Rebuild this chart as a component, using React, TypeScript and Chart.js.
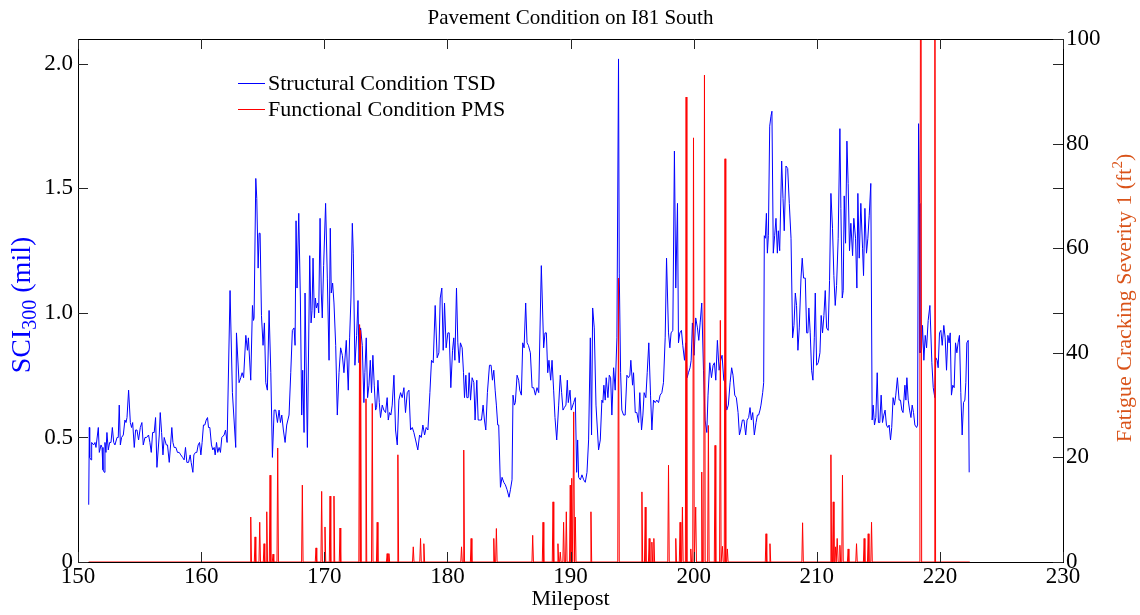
import React, { useEffect, useRef } from 'react';
import { Chart, registerables } from 'chart.js';

Chart.register(...registerables);

const FONT = '"Liberation Serif", "Times New Roman", Times, serif';

const chartTitle = 'Pavement Condition on I81 South';
const xTitle = 'Milepost';
const legendLabels = ['Structural Condition TSD', 'Functional Condition PMS'];
const seriesColors = ['#0000ff', '#ff0000'];

const xTickValues = [150, 160, 170, 180, 190, 200, 210, 220, 230];
const leftTickValues = [0, 0.5, 1, 1.5, 2];
const rightTickValues = [0, 20, 40, 60, 80, 100];

// Structural condition (SCI300, mil) by milepost
const blueMiles = [
  150.87, 150.92, 150.95, 151.06, 151.11, 151.27, 151.38, 151.46, 151.65, 151.73, 151.87, 151.95, 152.03, 152.14, 152.19, 152.27, 152.35, 152.46, 152.57, 152.68,
  152.79, 152.90, 153.00, 153.17, 153.27, 153.35, 153.44, 153.54, 153.68, 153.81, 153.90, 153.98, 154.11, 154.25, 154.35, 154.44, 154.57, 154.68, 154.79, 154.92,
  155.06, 155.19, 155.30, 155.44, 155.57, 155.73, 155.84, 155.95, 156.06, 156.19, 156.30, 156.41, 156.60, 156.68, 156.79, 156.90, 157.00, 157.17, 157.27, 157.41,
  157.52, 157.62, 157.71, 157.81, 157.95, 158.08, 158.22, 158.35, 158.49, 158.62, 158.73, 158.84, 158.98, 159.11, 159.19, 159.33, 159.41, 159.54, 159.65, 159.76,
  159.87, 159.98, 160.08, 160.19, 160.30, 160.41, 160.52, 160.60, 160.71, 160.84, 160.95, 161.06, 161.14, 161.25, 161.35, 161.46, 161.57, 161.68, 161.87, 161.98,
  162.11, 162.35, 162.54, 162.81, 162.87, 163.08, 163.22, 163.33, 163.45, 163.63, 163.76, 163.84, 164.03, 164.17, 164.25, 164.30, 164.44, 164.52, 164.63, 164.71,
  164.79, 164.90, 165.03, 165.14, 165.25, 165.38, 165.52, 165.66, 165.79, 165.93, 166.06, 166.20, 166.33, 166.44, 166.55, 166.68, 166.82, 166.95, 167.14, 167.28,
  167.41, 167.55, 167.63, 167.71, 167.79, 167.93, 168.06, 168.17, 168.25, 168.36, 168.44, 168.63, 168.82, 168.93, 169.01, 169.09, 169.20, 169.28, 169.36, 169.47,
  169.55, 169.66, 169.76, 169.84, 169.95, 170.11, 170.25, 170.39, 170.49, 170.57, 170.68, 170.79, 170.93, 171.06, 171.20, 171.33, 171.47, 171.60, 171.79, 171.95,
  172.06, 172.17, 172.28, 172.36, 172.49, 172.63, 172.74, 172.82, 172.95, 173.09, 173.22, 173.30, 173.41, 173.52, 173.63, 173.74, 173.84, 173.95, 174.06, 174.17,
  174.25, 174.36, 174.47, 174.57, 174.71, 174.84, 174.98, 175.11, 175.20, 175.30, 175.41, 175.52, 175.66, 175.79, 175.93, 176.06, 176.20, 176.33, 176.47, 176.60,
  176.74, 176.88, 177.01, 177.15, 177.28, 177.42, 177.60, 177.74, 177.88, 178.01, 178.15, 178.28, 178.42, 178.58, 178.71, 178.85, 179.01, 179.17, 179.31, 179.42,
  179.55, 179.66, 179.77, 179.90, 180.04, 180.15, 180.28, 180.42, 180.52, 180.61, 180.74, 180.85, 180.96, 181.06, 181.20, 181.31, 181.39, 181.50, 181.58, 181.69,
  181.77, 181.88, 182.01, 182.15, 182.25, 182.39, 182.50, 182.63, 182.77, 182.90, 183.01, 183.12, 183.25, 183.42, 183.55, 183.66, 183.77, 183.88, 183.98, 184.09,
  184.17, 184.31, 184.44, 184.58, 184.71, 184.85, 185.01, 185.12, 185.25, 185.33, 185.44, 185.52, 185.66, 185.79, 185.88, 186.01, 186.12, 186.23, 186.36, 186.47,
  186.58, 186.74, 186.88, 187.01, 187.15, 187.28, 187.42, 187.63, 187.82, 187.93, 188.04, 188.15, 188.25, 188.39, 188.50, 188.63, 188.74, 188.88, 189.04, 189.17,
  189.28, 189.39, 189.50, 189.63, 189.74, 189.82, 189.96, 190.06, 190.26, 190.39, 190.50, 190.58, 190.66, 190.80, 190.93, 191.07, 191.20, 191.34, 191.47, 191.61,
  191.71, 191.80, 191.93, 192.07, 192.28, 192.42, 192.55, 192.63, 192.71, 192.82, 192.90, 193.04, 193.15, 193.26, 193.36, 193.50, 193.63, 193.77, 193.90, 193.96,
  194.07, 194.17, 194.31, 194.44, 194.58, 194.71, 194.82, 194.90, 195.04, 195.12, 195.26, 195.39, 195.53, 195.63, 195.77, 195.88, 195.98, 196.12, 196.23, 196.36,
  196.50, 196.61, 196.74, 196.88, 197.01, 197.15, 197.28, 197.42, 197.55, 197.69, 197.80, 197.96, 198.07, 198.17, 198.31, 198.44, 198.55, 198.69, 198.77, 198.88,
  199.01, 199.12, 199.26, 199.36, 199.47, 199.58, 199.71, 199.80, 199.90, 200.04, 200.17, 200.31, 200.42, 200.53, 200.66, 200.80, 200.93, 201.07, 201.17, 201.31,
  201.45, 201.58, 201.69, 201.80, 201.93, 202.07, 202.20, 202.31, 202.45, 202.58, 202.69, 202.82, 202.96, 203.09, 203.20, 203.34, 203.47, 203.61, 203.72, 203.82,
  203.96, 204.09, 204.23, 204.34, 204.47, 204.58, 204.69, 204.80, 204.93, 205.07, 205.18, 205.28, 205.39, 205.47, 205.61, 205.69, 205.74, 205.82, 205.91, 205.99,
  206.07, 206.18, 206.28, 206.36, 206.47, 206.58, 206.69, 206.80, 206.88, 206.99, 207.15, 207.26, 207.36, 207.50, 207.64, 207.77, 207.91, 208.04, 208.15, 208.26,
  208.36, 208.47, 208.58, 208.72, 208.82, 208.93, 209.07, 209.18, 209.28, 209.36, 209.47, 209.58, 209.69, 209.80, 209.88, 209.99, 210.12, 210.26, 210.36, 210.47,
  210.58, 210.69, 210.80, 210.93, 211.04, 211.15, 211.28, 211.39, 211.50, 211.61, 211.74, 211.88, 211.96, 212.07, 212.15, 212.23, 212.34, 212.45, 212.55, 212.66,
  212.77, 212.91, 213.01, 213.15, 213.26, 213.34, 213.45, 213.58, 213.72, 213.80, 213.91, 214.04, 214.15, 214.26, 214.39, 214.50, 214.58, 214.69, 214.80, 214.91,
  215.01, 215.12, 215.23, 215.34, 215.45, 215.55, 215.66, 215.77, 215.88, 215.99, 216.09, 216.20, 216.31, 216.42, 216.55, 216.69, 216.80, 216.91, 217.01, 217.16,
  217.24, 217.32, 217.43, 217.54, 217.65, 217.75, 217.86, 217.97, 218.11, 218.19, 218.27, 218.35, 218.38, 218.51, 218.59, 218.70, 218.81, 218.92, 219.05, 219.19,
  219.35, 219.46, 219.59, 219.67, 219.78, 219.86, 219.97, 220.08, 220.19, 220.32, 220.43, 220.54, 220.65, 220.75, 220.84, 220.94, 221.05, 221.16, 221.27, 221.38,
  221.48, 221.59, 221.70, 221.81, 221.92, 222.03, 222.11, 222.19, 222.30, 222.38,
];

const blueValues = [
  0.23, 0.54, 0.42, 0.41, 0.48, 0.47, 0.48, 0.46, 0.54, 0.44, 0.47, 0.46, 0.37, 0.36, 0.48, 0.44, 0.52, 0.45, 0.48, 0.48,
  0.54, 0.48, 0.47, 0.50, 0.50, 0.63, 0.47, 0.50, 0.51, 0.57, 0.56, 0.58, 0.69, 0.56, 0.54, 0.56, 0.46, 0.53, 0.53, 0.49,
  0.54, 0.56, 0.47, 0.50, 0.50, 0.51, 0.48, 0.44, 0.52, 0.52, 0.58, 0.38, 0.51, 0.60, 0.52, 0.43, 0.50, 0.47, 0.47, 0.40,
  0.47, 0.54, 0.48, 0.46, 0.46, 0.44, 0.44, 0.43, 0.42, 0.41, 0.46, 0.40, 0.40, 0.43, 0.40, 0.36, 0.43, 0.44, 0.44, 0.47,
  0.48, 0.43, 0.48, 0.55, 0.55, 0.57, 0.58, 0.54, 0.54, 0.47, 0.45, 0.46, 0.43, 0.48, 0.44, 0.46, 0.44, 0.50, 0.51, 0.53,
  0.48, 1.09, 0.68, 0.46, 0.92, 0.72, 0.74, 0.76, 0.74, 0.91, 0.85, 0.90, 0.73, 1.03, 0.97, 0.98, 1.54, 1.46, 1.18, 1.32,
  1.32, 0.99, 0.87, 0.96, 0.72, 0.69, 1.01, 0.76, 0.42, 0.61, 0.61, 0.56, 0.61, 0.56, 0.59, 0.53, 0.48, 0.55, 0.59, 0.76,
  0.93, 0.94, 0.87, 1.37, 1.10, 1.40, 1.06, 0.59, 0.77, 0.52, 1.08, 0.46, 1.23, 0.96, 1.01, 1.22, 0.98, 1.06, 1.02, 1.04,
  1.00, 1.38, 1.08, 0.98, 1.19, 1.44, 1.14, 0.81, 1.34, 1.08, 1.12, 1.04, 0.87, 0.59, 0.76, 0.86, 0.83, 0.76, 0.89, 0.69,
  0.90, 1.06, 1.36, 1.24, 0.79, 0.91, 1.05, 0.80, 0.94, 0.87, 0.64, 0.76, 0.90, 0.66, 0.71, 0.81, 0.68, 0.83, 0.71, 0.61,
  0.62, 0.73, 0.64, 0.58, 0.63, 0.61, 0.60, 0.66, 0.57, 0.60, 0.59, 0.63, 0.75, 0.53, 0.47, 0.65, 0.68, 0.66, 0.70, 0.60,
  0.68, 0.69, 0.53, 0.54, 0.52, 0.49, 0.45, 0.51, 0.50, 0.55, 0.51, 0.54, 0.53, 0.68, 0.81, 0.80, 1.03, 0.82, 0.84, 1.06,
  1.10, 0.85, 1.04, 0.86, 0.92, 0.92, 0.70, 0.85, 0.90, 0.81, 1.10, 0.88, 0.80, 0.88, 0.86, 0.76, 0.66, 0.75, 0.66, 0.66,
  0.76, 0.65, 0.74, 0.72, 0.57, 0.73, 0.57, 0.57, 0.57, 0.63, 0.57, 0.53, 0.68, 0.79, 0.79, 0.73, 0.77, 0.69, 0.63, 0.55,
  0.55, 0.30, 0.34, 0.32, 0.31, 0.29, 0.26, 0.29, 0.33, 0.67, 0.63, 0.64, 0.75, 0.73, 0.69, 0.67, 0.88, 0.86, 1.04, 0.88,
  0.87, 0.84, 0.70, 0.70, 0.67, 0.70, 0.68, 1.19, 0.86, 0.92, 0.92, 0.76, 0.81, 0.73, 0.81, 0.69, 0.58, 0.49, 0.63, 0.75,
  0.68, 0.61, 0.62, 0.63, 0.73, 0.64, 0.69, 0.61, 0.64, 0.66, 0.36, 0.49, 0.34, 0.33, 0.35, 0.33, 0.32, 0.36, 0.49, 0.90,
  0.51, 1.02, 0.94, 0.63, 0.45, 0.49, 0.65, 0.64, 0.71, 0.65, 0.74, 0.66, 0.75, 0.74, 0.59, 0.78, 0.69, 0.90, 2.02, 1.16,
  0.76, 0.61, 0.59, 0.59, 0.75, 0.74, 0.75, 0.81, 0.71, 0.76, 0.60, 0.60, 0.56, 0.68, 0.53, 0.59, 0.68, 0.66, 0.76, 0.88,
  0.67, 0.53, 0.65, 0.64, 0.65, 0.64, 0.67, 0.68, 0.72, 0.90, 1.22, 0.92, 0.86, 0.92, 0.93, 1.65, 1.10, 1.44, 0.88, 0.92,
  0.93, 0.87, 0.81, 0.88, 0.74, 0.76, 0.78, 0.81, 0.96, 0.83, 0.98, 0.94, 0.89, 0.96, 1.04, 0.77, 0.57, 0.52, 0.67, 0.80,
  0.74, 0.79, 0.80, 0.73, 0.89, 0.77, 0.81, 0.83, 0.73, 0.72, 0.61, 0.63, 0.72, 0.78, 0.75, 0.67, 0.66, 0.60, 0.51, 0.53,
  0.57, 0.57, 0.51, 0.57, 0.58, 0.62, 0.57, 0.60, 0.51, 0.56, 0.59, 0.59, 0.61, 0.63, 0.68, 0.72, 1.31, 1.30, 1.40, 1.24,
  1.31, 1.75, 1.79, 1.81, 1.24, 1.31, 1.38, 1.24, 1.33, 1.25, 1.61, 1.46, 1.33, 1.59, 1.58, 1.44, 1.30, 0.90, 0.95, 1.08,
  1.03, 0.85, 0.94, 1.14, 1.22, 1.14, 1.14, 0.92, 0.92, 1.02, 0.92, 0.77, 0.73, 0.90, 1.08, 0.79, 0.80, 0.84, 0.99, 0.92,
  0.99, 1.09, 0.94, 0.93, 1.13, 1.48, 1.34, 1.15, 1.03, 1.11, 1.30, 1.74, 1.42, 1.06, 1.09, 1.47, 1.28, 1.69, 1.52, 1.25,
  1.36, 1.23, 1.38, 1.30, 1.10, 1.48, 1.22, 1.44, 1.26, 1.15, 1.42, 1.24, 1.30, 1.39, 1.52, 0.57, 0.63, 0.55, 0.58, 0.76,
  0.56, 0.56, 0.67, 0.56, 0.59, 0.61, 0.55, 0.54, 0.55, 0.49, 0.54, 0.66, 0.63, 0.67, 0.74, 0.65, 0.65, 0.61, 0.60, 0.71,
  0.65, 0.74, 0.65, 0.61, 0.58, 0.63, 0.60, 0.55, 0.54, 0.55, 1.76, 1.44, 0.84, 0.85, 0.95, 0.81, 0.91, 0.86, 0.97, 1.03,
  0.80, 0.70, 0.66, 0.82, 0.81, 0.78, 0.92, 0.93, 0.87, 0.95, 0.90, 0.77, 0.91, 0.88, 0.92, 0.67, 0.71, 0.70, 0.88, 0.84,
  0.88, 0.91, 0.68, 0.51, 0.64, 0.65, 0.72, 0.88, 0.89, 0.36,
];

// Functional condition (fatigue cracking severity 1, ft^2) by milepost
const redMiles = [
  150.87,
  163.97, 164.03, 164.09, 164.32, 164.38, 164.44, 164.70, 164.76, 164.82, 165.05, 165.11, 165.17, 165.27, 165.33, 165.39,
  165.54, 165.60, 165.66, 165.78, 165.84, 165.90, 166.16, 166.22, 166.28, 168.16, 168.22, 168.28, 169.27, 169.33, 169.39,
  169.73, 169.79, 169.85, 170.00, 170.06, 170.12, 170.41, 170.47, 170.53, 170.73, 170.79, 170.85, 171.22, 171.28, 171.34,
  172.81, 172.87, 172.91, 172.95, 173.01, 173.33, 173.39, 173.45, 173.84, 173.90, 173.96, 174.24, 174.30, 174.36,
  175.05, 175.11, 175.17, 175.19, 175.25, 175.31, 175.92, 175.98, 176.04, 177.17, 177.23, 177.29, 177.76, 177.82, 177.88,
  178.03, 178.09, 178.15, 181.09, 181.15, 181.21, 181.27, 181.33, 181.39, 181.87, 181.93, 181.99, 183.71, 183.77, 183.83,
  183.92, 183.98, 184.04, 186.87, 186.93, 186.99, 187.71, 187.77, 187.83, 188.52, 188.58, 188.64, 188.92, 188.98, 189.04,
  189.11, 189.17, 189.23, 189.38, 189.44, 189.50, 189.60, 189.66, 189.72, 189.92, 189.98, 190.04, 190.10, 190.18, 190.26,
  190.33, 190.39, 190.45, 191.60, 191.66, 191.72, 193.84, 193.90, 193.96, 195.74, 195.80, 195.86, 196.01, 196.07, 196.13,
  196.33, 196.39, 196.45, 196.55, 196.61, 196.67, 196.71, 196.77, 196.83, 197.90, 197.96, 198.02, 198.49, 198.55, 198.61,
  198.84, 198.90, 198.96, 199.03, 199.09, 199.15, 199.33, 199.39, 199.45, 199.71, 199.77, 199.83, 199.93, 199.99, 200.05,
  200.11, 200.17, 200.23, 200.60, 200.66, 200.72, 200.82, 200.88, 200.94, 201.14, 201.20, 201.26, 201.68, 201.74, 201.80,
  202.11, 202.17, 202.23, 202.28, 202.34, 202.40, 202.49, 202.55, 202.61, 202.68, 202.74, 202.80, 205.82, 205.88, 205.94,
  206.14, 206.20, 206.26, 208.79, 208.85, 208.91, 211.09, 211.15, 211.21, 211.28, 211.34, 211.40, 211.47, 211.53, 211.58,
  211.66, 211.74, 211.82, 211.88, 211.94, 212.03, 212.09, 212.15, 212.49, 212.55, 212.61, 213.17, 213.23, 213.29,
  213.79, 213.85, 213.91, 214.12, 214.18, 214.24, 214.39, 214.45, 214.51, 218.32, 218.38, 218.46, 218.52, 219.53, 219.59,
  219.65, 222.43,
];

const redValues = [
  0,
  0, 8.6, 0, 0, 4.8, 0, 0, 7.6, 0, 0, 3.5, 0, 0, 9.6, 0,
  0, 16.6, 0, 0, 1.5, 0, 0, 21.8, 0, 0, 14.7, 0, 0, 2.7, 0,
  0, 13.5, 0, 0, 6.7, 0, 0, 12.6, 0, 0, 12.6, 0, 0, 6.5, 0,
  0, 45.4, 0, 44.3, 0, 0, 31.2, 0, 0, 30.3, 0, 0, 7.6, 0,
  0, 1.6, 0, 0, 1.6, 0, 0, 20.5, 0, 0, 2.9, 0, 0, 4.5, 0,
  0, 3.5, 0, 0, 2.9, 0, 0, 21.4, 0, 0, 4.5, 0, 0, 4.5, 0,
  0, 6.4, 0, 0, 5.1, 0, 0, 7.6, 0, 0, 11.5, 0, 0, 3.5, 0,
  0, 1.9, 0, 0, 7.6, 0, 0, 9.6, 0, 0, 14.7, 0, 16.0, 0, 28.7,
  0, 8.6, 0, 0, 9.6, 0, 0, 54.3, 0, 0, 13.4, 0, 0, 10.5, 0,
  0, 4.5, 0, 0, 3.8, 0, 0, 4.5, 0, 0, 18.5, 0, 0, 4.5, 0,
  0, 7.6, 0, 0, 10.5, 0, 0, 88.9, 0, 0, 2.5, 0, 0, 81.1, 0,
  0, 10.5, 0, 0, 17.2, 0, 0, 93.1, 0, 0, 26.1, 0, 0, 22.3, 0,
  0, 46.2, 0, 0, 3.0, 0, 0, 77.1, 0, 0, 2.5, 0, 0, 5.4, 0,
  0, 3.5, 0, 0, 7.5, 0, 0, 20.5, 0, 0, 11.5, 0, 0, 2.9, 0,
  4.5, 0, 0, 3.2, 0, 0, 16.6, 0, 0, 2.5, 0, 0, 3.5, 0,
  0, 4.5, 0, 0, 5.4, 0, 0, 7.6, 0, 0, 52, 150, 0, 0, 150,
  0, 0,
];

const overlayPlugin = {
  id: 'overlay',
  afterDatasetsDraw(chart: any) {
    const { ctx, chartArea: a, scales } = chart;
    const xs = scales.x;
    const ys = scales.y;
    const y1s = scales.y1;
    ctx.save();
    // box top border
    ctx.strokeStyle = '#000';
    ctx.lineWidth = 1;
    const top = Math.round(a.top) + 0.5;
    ctx.beginPath();
    ctx.moveTo(a.left, top);
    ctx.lineTo(a.right, top);
    ctx.stroke();
    // inward ticks
    const T = 10;
    ctx.strokeStyle = '#262626';
    ctx.beginPath();
    xTickValues.forEach((v) => {
      const px = Math.round(xs.getPixelForValue(v)) + 0.5;
      ctx.moveTo(px, a.bottom);
      ctx.lineTo(px, a.bottom - T);
      ctx.moveTo(px, a.top);
      ctx.lineTo(px, a.top + T);
    });
    leftTickValues.forEach((v) => {
      const py = Math.round(ys.getPixelForValue(v)) + 0.5;
      ctx.moveTo(a.left, py);
      ctx.lineTo(a.left + T, py);
      ctx.moveTo(a.right, py);
      ctx.lineTo(a.right - T, py);
    });
    rightTickValues.forEach((v) => {
      const py = Math.round(y1s.getPixelForValue(v)) + 0.5;
      ctx.moveTo(a.right, py);
      ctx.lineTo(a.right - T, py);
    });
    ctx.stroke();

    // legend (inside the plot)
    const legendRows = [83, 109];
    ctx.font = `22px ${FONT}`;
    ctx.textBaseline = 'middle';
    ctx.textAlign = 'left';
    legendRows.forEach((ly, i) => {
      ctx.fillStyle = seriesColors[i];
      ctx.fillRect(238, ly, 27, 1);
      ctx.fillStyle = '#000';
      ctx.fillText(legendLabels[i], 268, ly + 1);
    });

    // title
    const cx = (a.left + a.right) / 2;
    ctx.textAlign = 'center';
    ctx.fillStyle = '#000';
    ctx.font = `21px ${FONT}`;
    ctx.fillText(chartTitle, cx, 18);
    // x title
    ctx.font = `22px ${FONT}`;
    ctx.fillText(xTitle, cx, 599);

    // left y title: SCI_300 (mil)
    ctx.save();
    ctx.translate(21, 305);
    ctx.rotate(-Math.PI / 2);
    ctx.fillStyle = '#0000ff';
    ctx.textAlign = 'left';
    ctx.textBaseline = 'alphabetic';
    const lbig = `28px ${FONT}`;
    const lsmall = `20px ${FONT}`;
    ctx.font = lbig;
    const w1 = ctx.measureText('SCI').width;
    const w3 = ctx.measureText(' (mil)').width;
    ctx.font = lsmall;
    const w2 = ctx.measureText('300').width;
    let sx = -(w1 + w2 + w3) / 2;
    const lbase = 9;
    ctx.font = lbig;
    ctx.fillText('SCI', sx, lbase);
    sx += w1;
    ctx.font = lsmall;
    ctx.fillText('300', sx, lbase + 6);
    sx += w2;
    ctx.font = lbig;
    ctx.fillText(' (mil)', sx, lbase);
    ctx.restore();

    // right y title: Fatigue Cracking Severity 1 (ft^2)
    const big = `22px ${FONT}`;
    const small = `15px ${FONT}`;
    const base = 7;
    ctx.save();
    ctx.translate(1124, 298);
    ctx.rotate(-Math.PI / 2);
    ctx.fillStyle = 'rgb(217,83,25)';
    ctx.textAlign = 'left';
    ctx.textBaseline = 'alphabetic';
    ctx.font = big;
    const r1 = ctx.measureText('Fatigue Cracking Severity 1 (ft').width;
    const r3 = ctx.measureText(')').width;
    ctx.font = small;
    const r2 = ctx.measureText('2').width;
    let rx = -(r1 + r2 + r3) / 2;
    ctx.font = big;
    ctx.fillText('Fatigue Cracking Severity 1 (ft', rx, base);
    rx += r1;
    ctx.font = small;
    ctx.fillText('2', rx, base - 9);
    rx += r2;
    ctx.font = big;
    ctx.fillText(')', rx, base);
    ctx.restore();

    ctx.restore();
  },
};

export default function App() {
  const ref = useRef<HTMLCanvasElement | null>(null);

  useEffect(() => {
    const canvas = ref.current;
    if (!canvas) return;
    const bluePts = blueMiles.map((m, i) => ({ x: m, y: blueValues[i] }));
    const redPts = redMiles.map((m, i) => ({ x: m, y: redValues[i] }));
    const tickFont = { family: FONT, size: 23 };
    const chart = new Chart(canvas, {
      type: 'line',
      data: {
        datasets: [
          {
            label: legendLabels[0],
            data: bluePts,
            borderColor: seriesColors[0],
            backgroundColor: seriesColors[0],
            borderWidth: 1,
            pointRadius: 0,
            tension: 0,
            yAxisID: 'y',
            order: 1,
          },
          {
            label: legendLabels[1],
            data: redPts,
            borderColor: seriesColors[1],
            backgroundColor: seriesColors[1],
            borderWidth: 1,
            pointRadius: 0,
            tension: 0,
            yAxisID: 'y1',
            order: 0,
          },
        ],
      },
      options: {
        animation: false,
        responsive: false,
        devicePixelRatio: 1,
        layout: { padding: { top: 39, left: 0, right: 0, bottom: 0 } },
        plugins: {
          legend: { display: false },
          title: { display: false },
          tooltip: { enabled: false },
        },
        scales: {
          x: {
            type: 'linear',
            position: 'bottom',
            min: 150,
            max: 230,
            afterBuildTicks: (s: any) => {
              s.ticks = xTickValues.map((v) => ({ value: v }));
            },
            afterFit: (s: any) => {
              s.height = 53;
            },
            grid: { display: false, drawTicks: false },
            border: { display: true, color: '#000', width: 1 },
            ticks: { font: tickFont, color: '#000', padding: 1, maxRotation: 0, autoSkip: false },
          },
          y: {
            type: 'linear',
            position: 'left',
            min: 0,
            max: 2.1,
            afterBuildTicks: (s: any) => {
              s.ticks = leftTickValues.map((v) => ({ value: v }));
            },
            afterFit: (s: any) => {
              s.width = 78;
            },
            grid: { display: false, drawTicks: false },
            border: { display: true, color: '#000', width: 1 },
            ticks: { font: tickFont, color: '#000', padding: 5 },
          },
          y1: {
            type: 'linear',
            position: 'right',
            min: 0,
            max: 100,
            afterBuildTicks: (s: any) => {
              s.ticks = rightTickValues.map((v) => ({ value: v }));
            },
            afterFit: (s: any) => {
              s.width = 77;
            },
            grid: { display: false, drawTicks: false },
            border: { display: true, color: '#000', width: 1 },
            ticks: { font: tickFont, color: '#000', padding: 3 },
          },
        },
      },
      plugins: [overlayPlugin],
    } as any);
    return () => chart.destroy();
  }, []);

  return (
    <div style={{ position: 'absolute', left: 0, top: 0, width: 1140, height: 615, background: '#fff' }}>
      <canvas ref={ref} width={1140} height={615} style={{ display: 'block' }} />
    </div>
  );
}
